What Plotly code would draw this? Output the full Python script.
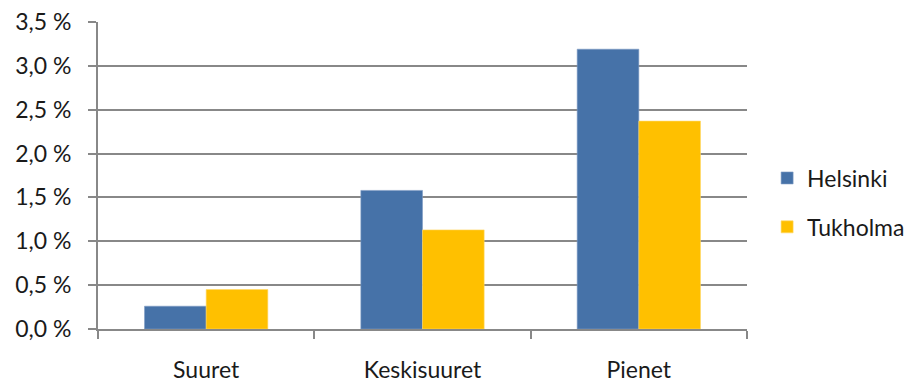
import plotly.graph_objects as go

categories = ["Suuret", "Keskisuuret", "Pienet"]
helsinki = [0.26, 1.58, 3.19]
tukholma = [0.45, 1.13, 2.37]
y_ticks = [0.0, 0.5, 1.0, 1.5, 2.0, 2.5, 3.0, 3.5]
y_tick_labels = ["0,0 %", "0,5 %", "1,0 %", "1,5 %", "2,0 %", "2,5 %", "3,0 %", "3,5 %"]

FONT = "Lato"
GRID = "#888888"
TEXT = "#1a1a1a"

fig = go.Figure()
fig.add_trace(go.Bar(
    name="Helsinki", x=categories, y=helsinki,
    marker=dict(color="#4672A8", line=dict(color="#7f9cc4", width=0.6)),
    legendgroup="h",
))
fig.add_trace(go.Bar(
    name="Tukholma", x=categories, y=tukholma,
    marker=dict(color="#FFC000", line=dict(color="#ffd866", width=0.6)),
    legendgroup="t",
))

fig.update_layout(
    width=918, height=382,
    margin=dict(l=98, r=171, t=22, b=53, autoexpand=False),
    paper_bgcolor="white", plot_bgcolor="white",
    barmode="group", bargap=0.43, bargroupgap=0,
    font=dict(family=FONT, size=23, color=TEXT),
    showlegend=True,
    legend=dict(
        x=1.031, y=0.412, xanchor="left", yanchor="middle",
        traceorder="grouped", tracegroupgap=16,
        font=dict(family=FONT, size=23, color=TEXT),
        itemwidth=30, bgcolor="rgba(0,0,0,0)",
    ),
    xaxis=dict(
        type="category", automargin=False,
        showline=True, linecolor=GRID, linewidth=2,
        ticks="outside", tickson="boundaries", ticklen=8, tickcolor=GRID, tickwidth=2,
        showgrid=False,
        ticklabelstandoff=19,
        tickfont=dict(family=FONT, size=23, color=TEXT),
    ),
    yaxis=dict(
        range=[0, 3.5], automargin=False,
        tickvals=y_ticks, ticktext=y_tick_labels,
        showline=True, linecolor=GRID, linewidth=2,
        ticks="outside", ticklen=8, tickcolor=GRID, tickwidth=2,
        showgrid=True, gridcolor=GRID, gridwidth=2,
        zeroline=False,
        ticklabelstandoff=12,
        tickfont=dict(family=FONT, size=23, color=TEXT),
    ),
)

fig.write_html("out.html")
